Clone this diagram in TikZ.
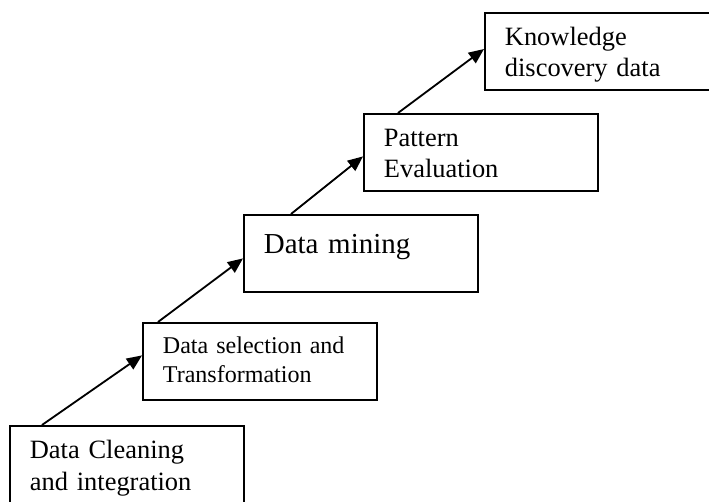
\documentclass[tikz,border=0pt]{standalone}
\usepackage{fontspec}
\setmainfont{Liberation Serif}
\usetikzlibrary{arrows.meta}

\begin{document}
\begin{tikzpicture}[
        stage/.style={rectangle, draw, line width=1.3pt, anchor=north west,
                      align=left, text width=4.85cm, inner xsep=0.5cm, inner ysep=0.1cm,
                      text height=0.725cm, text depth=1.0cm,
                      font=\fontsize{18.8}{21.8}\selectfont},
        line/.style={line width=1.3pt, -{Triangle[length=0.38cm, width=0.32cm]}}
    ]
        \clip (0,0) rectangle (17.725,12.525);

        % Stages
        \node[stage, text depth=1.1cm, font=\fontsize{18.8}{22.8}\selectfont] (clean) at (0.225,1.9) {Data Cleaning\\and integration};
        \node[stage, text height=0.675cm, text depth=1.05cm, font=\fontsize{17.1}{20.6}\selectfont] (select) at (3.55,4.475) {Data selection and\\Transformation};
        \node[stage, text height=0.875cm, text depth=0.85cm, font=\fontsize{20.6}{24}\selectfont] (mining) at (6.075,7.175) {Data mining};
        \node[stage] (pattern) at (9.075,9.7) {Pattern\\Evaluation};
        \node[stage] (knowledge) at (12.1,12.225) {Knowledge\\discovery data};

        % Steps
        \draw[line] ([xshift=0.825cm]clean.north west) -- ([yshift=0.15cm]select.west);
        \draw[line] ([xshift=0.4cm]select.north west) -- ([yshift=-0.125cm]mining.west);
        \draw[line] ([xshift=1.2cm]mining.north west) -- ([yshift=-0.1cm]pattern.west);
        \draw[line] ([xshift=0.875cm]pattern.north west) -- ([yshift=0.06cm]knowledge.west);
    \end{tikzpicture}
\end{document}
